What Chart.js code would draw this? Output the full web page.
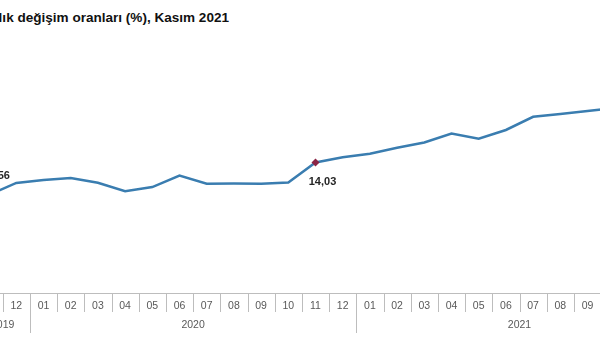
<!DOCTYPE html>
<html lang="tr">
<head>
<meta charset="utf-8">
<title>TÜFE yıllık değişim oranları</title>
<script src="https://cdn.jsdelivr.net/npm/chart.js@4/dist/chart.umd.min.js"></script>
<style>
    html, body { margin: 0; padding: 0; background: #fff; }
    body { width: 600px; height: 343px; position: relative; overflow: hidden; }
    #title {
        position: absolute; top: 10px; right: 371px;
        font: bold 13.55px Arial, "Liberation Sans", sans-serif; line-height: 15px;
        color: #111; white-space: nowrap; text-align: right;
    }
    #wrap { position: absolute; left: -60px; top: 0; width: 760px; height: 343px; }
</style>
</head>
<body>
<div id="title">TÜFE yıllık değişim oranları (%), Kasım 2021</div>
<div id="wrap"><canvas id="chart" width="760" height="343"></canvas></div>
<script>
    const months = ['11', '12',
        '01', '02', '03', '04', '05', '06', '07', '08', '09', '10', '11', '12',
        '01', '02', '03', '04', '05', '06', '07', '08', '09', '10', '11', '12'];
    const years = ['2019', '2019',
        '2020', '2020', '2020', '2020', '2020', '2020', '2020', '2020', '2020', '2020', '2020', '2020',
        '2021', '2021', '2021', '2021', '2021', '2021', '2021', '2021', '2021', '2021', '2021', '2021'];
    const tufe = [10.56, 11.84,
        12.15, 12.37, 11.86, 10.94, 11.39, 12.62, 11.76, 11.77, 11.75, 11.89, 14.03, 14.60,
        14.97, 15.61, 16.19, 17.14, 16.59, 17.53, 18.95, 19.25, 19.58, 19.89, 21.31, null];
    // Kasım noktaları işaretlenip değerleri yazılıyor
    const labelled = [0, 12, 24];
    const labelAbove = [true, false, true];

    const fmt = v => v.toFixed(2).replace('.', ',');

    // ay kutucukları ve yıl grupları
    const groupAxis = {
        id: 'groupAxis',
        afterDraw(chart) {
            const { ctx } = chart;
            const x = chart.scales.x;
            const step = x.getPixelForValue(1) - x.getPixelForValue(0);
            const top = x.top;
            ctx.save();
            ctx.strokeStyle = '#bdbdbd';
            ctx.lineWidth = 1;
            for (let i = 0; i <= months.length; i++) {
                const edge = Math.round(x.getPixelForValue(Math.min(i, months.length - 1)) + (i === months.length ? step / 2 : -step / 2)) + 0.5;
                const newYear = i === 0 || i === months.length || years[i] !== years[i - 1];
                ctx.beginPath();
                ctx.moveTo(edge, top);
                ctx.lineTo(edge, top + (newYear ? 40 : 19));
                ctx.stroke();
            }
            ctx.fillStyle = '#595959';
            ctx.font = '10.5px Arial, "Liberation Sans", sans-serif';
            ctx.textAlign = 'center';
            ctx.textBaseline = 'middle';
            let start = 0;
            for (let i = 1; i <= years.length; i++) {
                if (i === years.length || years[i] !== years[start]) {
                    const cx = (x.getPixelForValue(start) + x.getPixelForValue(i - 1)) / 2;
                    ctx.fillText(years[start], cx, top + 32);
                    start = i;
                }
            }
            ctx.restore();
        }
    };

    const valueLabels = {
        id: 'valueLabels',
        afterDatasetsDraw(chart) {
            const { ctx } = chart;
            const meta = chart.getDatasetMeta(0);
            ctx.save();
            ctx.fillStyle = '#262626';
            ctx.font = 'bold 11px Arial, "Liberation Sans", sans-serif';
            ctx.textAlign = 'center';
            ctx.textBaseline = 'middle';
            labelled.forEach((idx, k) => {
                const p = meta.data[idx];
                ctx.fillText(fmt(tufe[idx]), p.x + 7, p.y + (labelAbove[k] ? -19 : 19));
            });
            ctx.restore();
        }
    };

    new Chart(document.getElementById('chart').getContext('2d'), {
        type: 'line',
        data: {
            labels: months,
            datasets: [{
                label: 'TÜFE',
                data: tufe,
                borderColor: '#3a7db0',
                borderWidth: 2.5,
                tension: 0,
                pointStyle: 'rectRot',
                pointRadius: c => labelled.includes(c.dataIndex) ? 4 : 0,
                pointBackgroundColor: '#8a2445',
                pointBorderColor: '#8a2445',
                pointBorderWidth: 0
            }]
        },
        options: {
            responsive: false,
            animation: false,
            devicePixelRatio: 1,
            layout: { padding: { left: 35.5, right: 17.3, top: 60.5, bottom: 0 } },
            plugins: { legend: { display: false }, tooltip: { enabled: false } },
            scales: {
                x: {
                    offset: true,
                    grid: { display: false },
                    border: { display: true, color: '#bdbdbd', width: 1 },
                    ticks: {
                        color: '#595959',
                        font: { family: 'Arial, "Liberation Sans", sans-serif', size: 10.5 },
                        padding: -1,
                        maxRotation: 0,
                        autoSkip: false
                    },
                    afterFit: s => { s.height = 50; }
                },
                y: { display: false, min: 0, max: 25 }
            }
        },
        plugins: [groupAxis, valueLabels]
    });
</script>
</body>
</html>
